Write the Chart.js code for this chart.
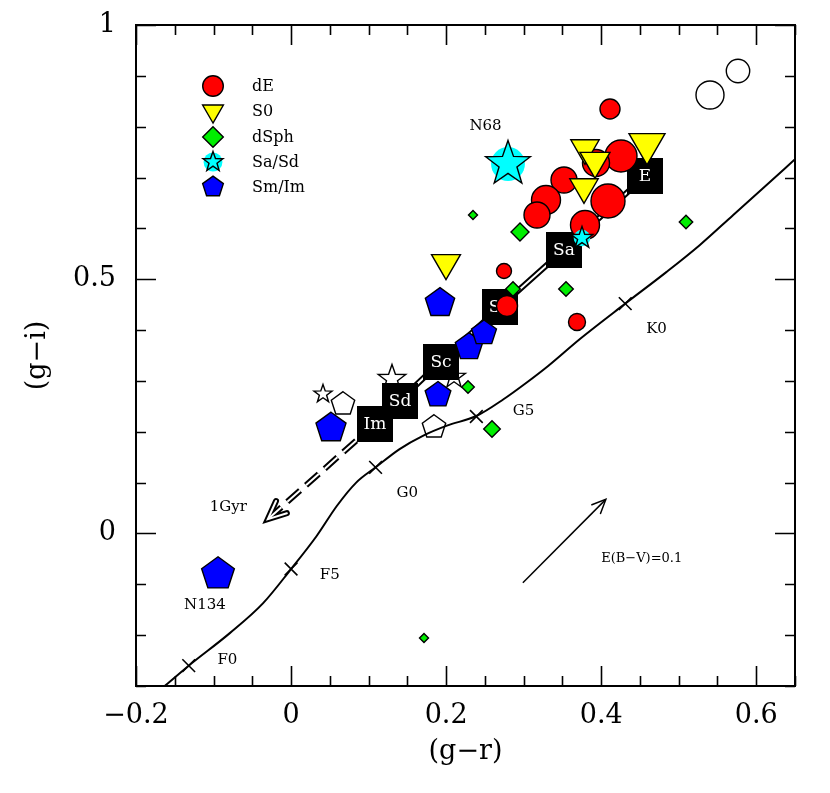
<!DOCTYPE html>
<html>
<head>
<meta charset="utf-8">
<script src="https://cdn.jsdelivr.net/npm/chart.js@4.4.1/dist/chart.umd.min.js"></script>
<style>
  body { margin: 0; background: #fff; }
</style>
</head>
<body>
<canvas id="ccd" width="830" height="793"></canvas>
<script>
// ---- Data ----

// stellar locus
const locusX = [-0.163, -0.132, -0.079, -0.036, 0.000, 0.033, 0.059, 0.084, 0.109, 0.140, 0.170, 0.201, 0.239, 0.274, 0.304, 0.332, 0.373, 0.431, 0.484, 0.527, 0.570, 0.613, 0.650];
const locusY = [-0.300, -0.260, -0.196, -0.137, -0.070, -0.005, 0.054, 0.100, 0.130, 0.166, 0.192, 0.212, 0.231, 0.264, 0.297, 0.330, 0.383, 0.452, 0.514, 0.567, 0.626, 0.685, 0.736];
const specX = [-0.132, 0.000, 0.109, 0.239, 0.431];
const specY = [-0.260, -0.070, 0.130, 0.230, 0.452];

// dE (red circles)
const dEX = [0.412, 0.425, 0.393, 0.352, 0.329, 0.317, 0.409, 0.379, 0.275, 0.279, 0.369];
const dEY = [0.835, 0.742, 0.728, 0.695, 0.655, 0.627, 0.653, 0.606, 0.517, 0.448, 0.416];
const dESize = [10, 16, 13.5, 13, 14.5, 13, 17, 14.5, 7.5, 10.5, 8.5];
const openCircX = [0.541, 0.577];
const openCircY = [0.862, 0.909];
const openCircSize = [14, 11.7];

// S0 (yellow triangles)
const s0X = [0.379, 0.392, 0.378, 0.459, 0.200];
const s0Y = [0.758, 0.732, 0.681, 0.766, 0.532];
const s0Size = [16.4, 17.3, 16.4, 20.8, 16.7];

// dSph (green diamonds)
const dSphX = [0.235, 0.295, 0.286, 0.355, 0.228, 0.259, 0.510, 0.172];
const dSphY = [0.627, 0.592, 0.481, 0.481, 0.289, 0.205, 0.613, -0.206];
const dSphSize = [4.5, 9, 7.3, 7.3, 6.3, 8.3, 6.7, 4.5];

// Sa/Sd (cyan stars)
const saX = [0.280, 0.375];
const saY = [0.727, 0.582];
const saSize = [23.5, 11.5];
const openStarX = [0.130, 0.041, 0.210];
const openStarY = [0.303, 0.275, 0.308];
const openStarSize = [14.5, 9.5, 12];

// Sm/Im (blue pentagons)
const smX = [0.192, 0.229, 0.249, 0.189, 0.051, -0.094];
const smY = [0.454, 0.367, 0.395, 0.272, 0.208, -0.079];
const smSize = [15.4, 14.4, 13.1, 13.5, 15.8, 17.2];
const openPentX = [0.067, 0.185];
const openPentY = [0.255, 0.210];
const openPentSize = [12.3, 12.3];

// model track (Hubble types) and 1 Gyr fading arrow
const boxLabel = ['E', 'Sa', 'Sb', 'Sc', 'Sd', 'Im'];
const boxX = [0.457, 0.352, 0.269, 0.193, 0.140, 0.108];
const boxY = [0.703, 0.558, 0.445, 0.338, 0.261, 0.215];
const ageX = [0.108, -0.030];
const ageY = [0.215, 0.028];

// reddening vector
const redX = [0.299, 0.406];
const redY = [-0.097, 0.067];

// text notes
const noteText = ['F0', 'F5', 'G0', 'G5', 'K0', 'N68', 'N134', '1Gyr', 'E(B\u2212V)=0.1'];
const noteX = [-0.095, 0.037, 0.136, 0.286, 0.458, 0.230, -0.138, -0.105, 0.400];
const noteY = [-0.250, -0.081, 0.080, 0.240, 0.401, 0.802, -0.141, 0.052, -0.049];

// axes
const xTickVals = [-0.2, 0, 0.2, 0.4, 0.6];
const yTickVals = [0, 0.5, 1];

const SERIF = '"DejaVu Serif", serif';

// ---- Marker images ----
function polyPath(g, n, r, start) {
    for (let i = 0; i < n; i++) {
        const a = start + i * 2 * Math.PI / n;
        const px = r * Math.cos(a), py = r * Math.sin(a);
        if (i === 0) g.moveTo(px, py); else g.lineTo(px, py);
    }
    g.closePath();
}

function starPath(g, r, inner) {
    for (let i = 0; i < 10; i++) {
        const a = -Math.PI / 2 + i * Math.PI / 5;
        const rr = i % 2 === 0 ? r : inner;
        const px = rr * Math.cos(a), py = rr * Math.sin(a);
        if (i === 0) g.moveTo(px, py); else g.lineTo(px, py);
    }
    g.closePath();
}

function makeMarker(shape, r, fill, diskFrac) {
    const lw = 1.4;
    const size = 2 * Math.ceil(r + lw + 2);
    const c = document.createElement('canvas');
    c.width = size; c.height = size;
    const g = c.getContext('2d');
    g.translate(size / 2, size / 2);
    g.lineWidth = lw;
    g.strokeStyle = '#000';
    g.lineJoin = 'miter';
    g.beginPath();
    if (shape === 'circle') g.arc(0, 0, r, 0, 2 * Math.PI);
    else if (shape === 'triangle') polyPath(g, 3, r, Math.PI / 2);
    else if (shape === 'diamond') polyPath(g, 4, r, 0);
    else if (shape === 'pentagon') polyPath(g, 5, r, -Math.PI / 2);
    else if (shape === 'star') starPath(g, r, 0.4 * r);
    if (fill) {
        g.fillStyle = fill;
        g.fill();
        if (shape === 'star' && diskFrac) {
            g.beginPath();
            g.arc(0, 0, r * diskFrac, 0, 2 * Math.PI);
            g.fill();
            g.beginPath();
            starPath(g, r, 0.4 * r);
        }
    }
    g.stroke();
    return c;
}

function makeBox(label) {
    const side = 36;
    const c = document.createElement('canvas');
    c.width = side; c.height = side;
    const g = c.getContext('2d');
    g.fillStyle = '#000';
    g.fillRect(0, 0, side, side);
    g.fillStyle = '#fff';
    g.font = '17px ' + SERIF;
    g.textAlign = 'center';
    g.textBaseline = 'middle';
    g.fillText(label, side / 2, side / 2 + 1);
    return c;
}

const pts = (xs, ys) => xs.map((x, i) => ({ x: x, y: ys[i] }));

function markerSet(xs, ys, sizes, shape, fill, order, diskFrac) {
    const imgs = sizes.map(s => makeMarker(shape, s, fill, diskFrac));
    return {
        data: pts(xs, ys),
        pointStyle: c => imgs[c.dataIndex],
        pointRadius: c => sizes[c.dataIndex],
        showLine: false,
        order: order
    };
}

function lineSet(xs, ys, color, width, order, extra) {
    return Object.assign({
        data: pts(xs, ys),
        showLine: true,
        borderColor: color,
        borderWidth: width,
        pointRadius: 0,
        fill: false,
        order: order
    }, extra || {});
}

// ---- Plugins ----
const arrowHeads = {
    id: 'arrowHeads',
    afterDatasetDraw(chart, args) {
        const ds = chart.data.datasets[args.index];
        if (!ds.arrowHead) return;
        const els = args.meta.data;
        const a = els[els.length - 2], b = els[els.length - 1];
        const ang = Math.atan2(b.y - a.y, b.x - a.x);
        const len = ds.arrowHead.length, spread = ds.arrowHead.spread;
        const ctx = chart.ctx;
        ctx.save();
        ctx.setLineDash([]);
        ctx.strokeStyle = ds.borderColor;
        ctx.lineWidth = ds.borderWidth;
        ctx.lineJoin = 'miter';
        ctx.lineCap = 'round';
        ctx.beginPath();
        ctx.moveTo(b.x - len * Math.cos(ang - spread), b.y - len * Math.sin(ang - spread));
        ctx.lineTo(b.x, b.y);
        ctx.lineTo(b.x - len * Math.cos(ang + spread), b.y - len * Math.sin(ang + spread));
        ctx.stroke();
        ctx.restore();
    }
};

const frameTicks = {
    id: 'frameTicks',
    beforeDatasetsDraw(chart) {
        const { ctx, chartArea: area, scales: { x, y } } = chart;
        ctx.imageSmoothingEnabled = false; // keep marker images crisp
        ctx.save();
        ctx.strokeStyle = '#000';
        ctx.lineWidth = 1.6;
        ctx.beginPath();
        for (let i = 0; i <= 17; i++) {
            const v = -0.2 + i * 0.05;
            const px = Math.round(x.getPixelForValue(v)) + 0.5;
            const len = (i % 4 === 0) ? 20 : 10;
            ctx.moveTo(px, area.bottom); ctx.lineTo(px, area.bottom - len);
            ctx.moveTo(px, area.top); ctx.lineTo(px, area.top + len);
        }
        for (let i = 0; i <= 13; i++) {
            const v = -0.3 + i * 0.1;
            const py = Math.round(y.getPixelForValue(v)) + 0.5;
            const len = ((i - 3) % 5 === 0) ? 20 : 10;
            ctx.moveTo(area.left, py); ctx.lineTo(area.left + len, py);
            ctx.moveTo(area.right, py); ctx.lineTo(area.right - len, py);
        }
        ctx.stroke();
        ctx.restore();
    },
    afterDatasetsDraw(chart) {
        const { ctx, chartArea: area, scales: { x, y } } = chart;
        ctx.save();
        // text notes
        ctx.fillStyle = '#000';
        ctx.textAlign = 'left';
        ctx.textBaseline = 'middle';
        noteText.forEach((t, i) => {
            ctx.font = (i === 8 ? '13px ' : '15px ') + SERIF;
            ctx.fillText(t, x.getPixelForValue(noteX[i]), y.getPixelForValue(noteY[i]));
        });
        // legend
        const legend = [
            ['dE', makeMarker('circle', 10.3, '#ff0000')],
            ['S0', makeMarker('triangle', 12, '#ffff00')],
            ['dSph', makeMarker('diamond', 10.3, '#00ee00')],
            ['Sa/Sd', makeMarker('star', 10.5, '#00ffff', 0.9)],
            ['Sm/Im', makeMarker('pentagon', 10.9, '#0000ff')]
        ];
        ctx.font = '16px ' + SERIF;
        legend.forEach(([label, img], i) => {
            const cy = area.top + 61 + i * 25.3;
            const cx = area.left + 77;
            ctx.drawImage(img, Math.round(cx - img.width / 2), Math.round(cy - img.height / 2));
            ctx.fillText(label, area.left + 116, cy + 1);
        });
        // frame
        ctx.lineWidth = 2;
        ctx.strokeRect(area.left, area.top, area.right - area.left, area.bottom - area.top);
        ctx.restore();
    }
};

// ---- Chart ----
const fmt = v => (v < 0 ? '\u2212' + Math.abs(v) : String(v));
const noPad = s => { s.paddingTop = 0; s.paddingBottom = 0; s.paddingLeft = 0; s.paddingRight = 0; };

new Chart(document.getElementById('ccd'), {
    type: 'scatter',
    data: {
        datasets: [
            lineSet(locusX, locusY, '#000', 2, 30, { cubicInterpolationMode: 'monotone' }),
            {
                data: pts(specX, specY), pointStyle: 'crossRot', pointRadius: 9,
                borderColor: '#000', borderWidth: 1.6, showLine: false, order: 29
            },
            lineSet(redX, redY, '#000', 1.5, 28, { arrowHead: { length: 15, spread: 0.42 } }),
            markerSet(openCircX, openCircY, openCircSize, 'circle', null, 27),
            markerSet(openStarX, openStarY, openStarSize, 'star', null, 27),
            markerSet(openPentX, openPentY, openPentSize, 'pentagon', null, 27),
            lineSet(boxX, boxY, '#000', 6, 26),
            lineSet(boxX, boxY, '#fff', 2, 25),
            lineSet(ageX, ageY, '#000', 6, 24, { borderDash: [17, 8], arrowHead: { length: 20, spread: 0.42 } }),
            lineSet(ageX, ageY, '#fff', 2, 23, { borderDash: [17, 8], arrowHead: { length: 20, spread: 0.42 } }),
            {
                data: pts(boxX, boxY),
                pointStyle: (function () { const b = boxLabel.map(makeBox); return c => b[c.dataIndex]; })(),
                pointRadius: 18, showLine: false, order: 20
            },
            markerSet(dEX, dEY, dESize, 'circle', '#ff0000', 10),
            markerSet(s0X, s0Y, s0Size, 'triangle', '#ffff00', 9),
            markerSet(dSphX, dSphY, dSphSize, 'diamond', '#00ee00', 8),
            markerSet(saX, saY, saSize, 'star', '#00ffff', 7, 0.72),
            markerSet(smX, smY, smSize, 'pentagon', '#0000ff', 6)
        ]
    },
    options: {
        responsive: false,
        animation: false,
        events: [],
        layout: { padding: { top: 25, right: 35, left: 0, bottom: 0 } },
        plugins: { legend: { display: false }, tooltip: { enabled: false } },
        scales: {
            x: {
                type: 'linear', min: -0.2, max: 0.65,
                grid: { display: false, drawTicks: false },
                border: { display: false },
                afterBuildTicks: s => { s.ticks = xTickVals.map(v => ({ value: v })); },
                afterFit: s => { s.height = 107; noPad(s); },
                ticks: {
                    color: '#000', padding: 14, maxRotation: 0, autoSkip: false,
                    font: { family: SERIF, size: 27 },
                    callback: v => fmt(v)
                },
                title: {
                    display: true, text: '(g\u2212r)', color: '#000',
                    font: { family: SERIF, size: 27 }, padding: { top: 0, bottom: 25 }
                }
            },
            y: {
                type: 'linear', min: -0.3, max: 1.0,
                grid: { display: false, drawTicks: false },
                border: { display: false },
                afterBuildTicks: s => { s.ticks = yTickVals.map(v => ({ value: v })); },
                afterFit: s => { s.width = 136; noPad(s); },
                ticks: {
                    color: '#000', padding: 20, autoSkip: false,
                    font: { family: SERIF, size: 27 },
                    callback: v => fmt(v)
                },
                title: {
                    display: true, text: '(g\u2212i)', color: '#000',
                    font: { family: SERIF, size: 27 }, padding: { top: 22, bottom: 0 }
                }
            }
        }
    },
    plugins: [arrowHeads, frameTicks]
});
</script>
</body>
</html>
